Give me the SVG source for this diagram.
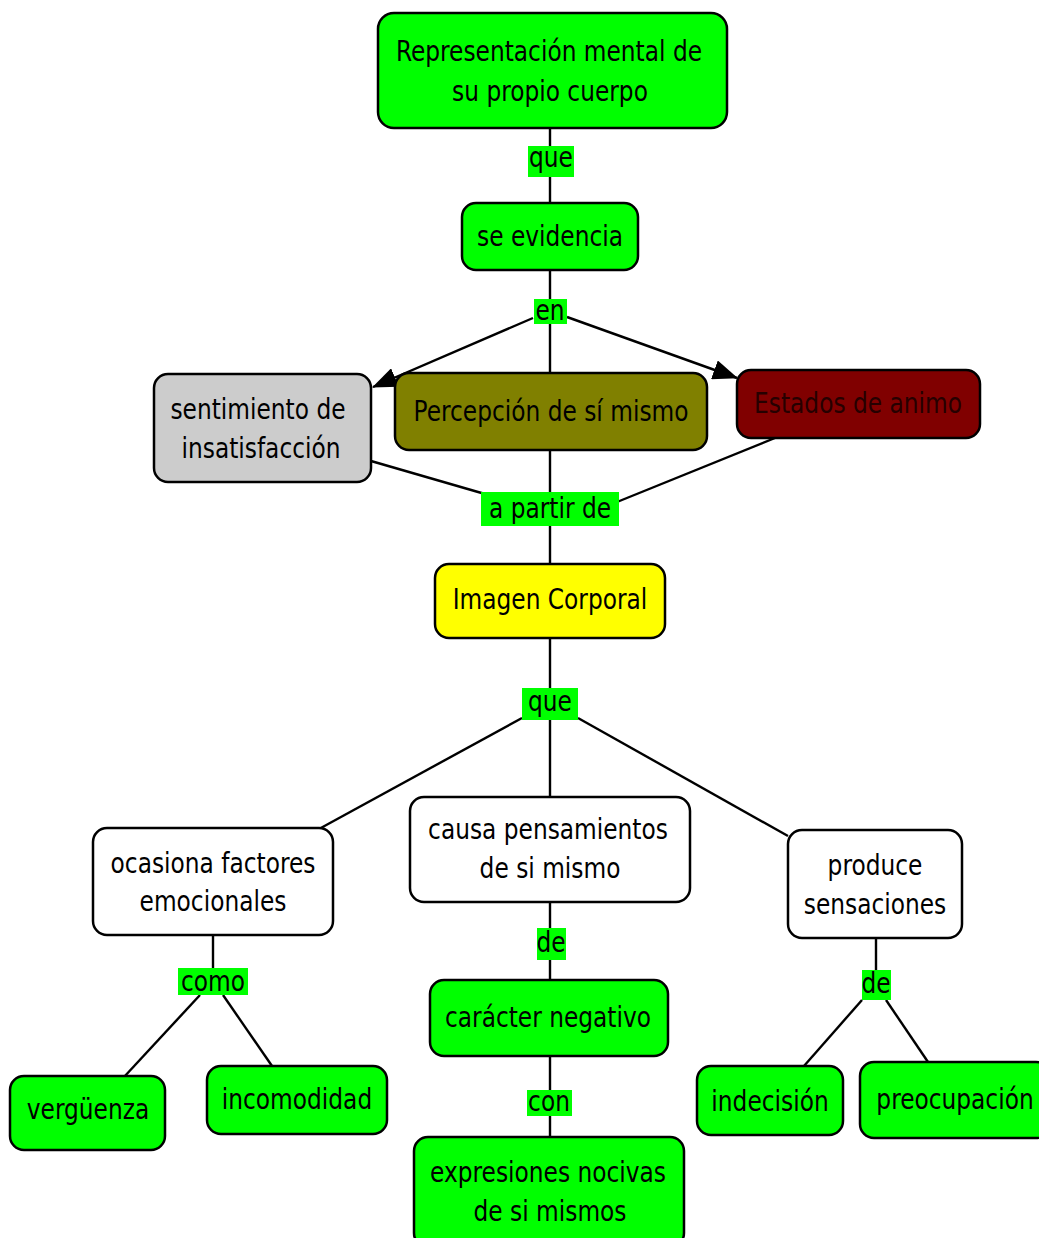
<svg xmlns="http://www.w3.org/2000/svg" width="1039" height="1238" viewBox="0 0 1039 1238">
<defs>
<style>
.n{stroke:#000;stroke-width:2.5}
.g{fill:#00ff00}
.w{fill:#fff}
.t{font-family:"DejaVu Sans Condensed","DejaVu Sans",sans-serif;font-size:28px;fill:#000;text-anchor:middle}
.c{stroke:#000;stroke-width:2.4;fill:none}
.lb{fill:#00ff00}
</style>
<marker id="ab" viewBox="0 0 25 20" refX="24" refY="10" markerWidth="25" markerHeight="20" markerUnits="userSpaceOnUse" orient="auto">
<path d="M0,0 L25,10 L0,20 z" fill="#000"/>
</marker>
</defs>
<rect width="1039" height="1238" fill="#fff"/>
<g id="connectors">
<line class="c" x1="550" y1="128" x2="550" y2="203"/>
<line class="c" x1="550" y1="270" x2="550" y2="564" stroke-width="1.8"/>
<line class="c" x1="533" y1="318" x2="373" y2="387" marker-end="url(#ab)"/>
<line class="c" x1="567" y1="317" x2="737" y2="378" marker-end="url(#ab)"/>
<line class="c" x1="371" y1="461" x2="485" y2="494"/>
<line class="c" x1="775" y1="438" x2="617" y2="502"/>
<line class="c" x1="550" y1="638" x2="550" y2="797"/>
<line class="c" x1="522" y1="718" x2="319" y2="829"/>
<line class="c" x1="578" y1="718" x2="788" y2="836"/>
<line class="c" x1="213" y1="935" x2="213" y2="970"/>
<line class="c" x1="200" y1="995" x2="124" y2="1077"/>
<line class="c" x1="223" y1="995" x2="272" y2="1066"/>
<line class="c" x1="550" y1="902" x2="550" y2="980"/>
<line class="c" x1="550" y1="1056" x2="550" y2="1137"/>
<line class="c" x1="876" y1="938" x2="876" y2="972"/>
<line class="c" x1="862" y1="1000" x2="804" y2="1066"/>
<line class="c" x1="886" y1="1000" x2="928" y2="1062"/>
</g>
<g id="labels">
<g id="l-que1"><rect class="lb" x="528" y="146" width="46" height="31"/><text class="t" transform="translate(551,167) scale(0.925,1)">que</text></g>
<g id="l-en"><rect class="lb" x="534" y="299" width="33" height="25"/><text class="t" transform="translate(550,320) scale(0.925,1)">en</text></g>
<g id="l-apartir"><rect class="lb" x="481" y="492" width="138" height="34"/><text class="t" transform="translate(550,518) scale(0.925,1)">a partir de</text></g>
<g id="l-que2"><rect class="lb" x="522" y="688" width="56" height="32"/><text class="t" transform="translate(550,711) scale(0.925,1)">que</text></g>
<g id="l-como"><rect class="lb" x="178" y="968" width="70" height="27"/><text class="t" transform="translate(213,991) scale(0.925,1)">como</text></g>
<g id="l-de1"><rect class="lb" x="537" y="928" width="29" height="32"/><text class="t" transform="translate(551,952) scale(0.925,1)">de</text></g>
<g id="l-con"><rect class="lb" x="527" y="1090" width="45" height="26"/><text class="t" transform="translate(549,1111) scale(0.925,1)">con</text></g>
<g id="l-de2"><rect class="lb" x="862" y="970" width="29" height="30"/><text class="t" transform="translate(876,993) scale(0.925,1)">de</text></g>
</g>
<g id="n1"><rect class="n g" x="378" y="13" width="349" height="115" rx="16"/><text class="t" transform="translate(549,61) scale(0.925,1)">Representación mental de</text><text class="t" transform="translate(550,101) scale(0.925,1)">su propio cuerpo</text></g>
<g id="n2"><rect class="n g" x="462" y="203" width="176" height="67" rx="14"/><text class="t" transform="translate(550,246) scale(0.925,1)">se evidencia</text></g>
<g id="n3"><rect class="n" fill="#cccccc" x="154" y="374" width="217" height="108" rx="14"/><text class="t" transform="translate(258,419) scale(0.925,1)">sentimiento de</text><text class="t" transform="translate(261,458) scale(0.925,1)">insatisfacción</text></g>
<g id="n4"><rect class="n" fill="#808000" x="395" y="373" width="312" height="77" rx="14"/><text class="t" transform="translate(551,421) scale(0.925,1)">Percepción de sí mismo</text></g>
<g id="n5"><rect class="n" fill="#800000" x="737" y="370" width="243" height="68" rx="14"/><text class="t" transform="translate(858,413) scale(0.925,1)" style="fill:#260000">Estados de animo</text></g>
<g id="n6"><rect class="n" fill="#ffff00" x="435" y="564" width="230" height="74" rx="14"/><text class="t" transform="translate(550,609) scale(0.925,1)">Imagen Corporal</text></g>
<g id="n7"><rect class="n w" x="93" y="828" width="240" height="107" rx="14"/><text class="t" transform="translate(213,873) scale(0.925,1)">ocasiona factores</text><text class="t" transform="translate(213,911) scale(0.925,1)">emocionales</text></g>
<g id="n8"><rect class="n w" x="410" y="797" width="280" height="105" rx="14"/><text class="t" transform="translate(548,839) scale(0.925,1)">causa pensamientos</text><text class="t" transform="translate(550,878) scale(0.925,1)">de si mismo</text></g>
<g id="n9"><rect class="n w" x="788" y="830" width="174" height="108" rx="14"/><text class="t" transform="translate(875,875) scale(0.925,1)">produce</text><text class="t" transform="translate(875,914) scale(0.925,1)">sensaciones</text></g>
<g id="n10"><rect class="n g" x="430" y="980" width="238" height="76" rx="14"/><text class="t" transform="translate(548,1027) scale(0.925,1)">carácter negativo</text></g>
<g id="n11"><rect class="n g" x="414" y="1137" width="270" height="110" rx="14"/><text class="t" transform="translate(548,1182) scale(0.925,1)">expresiones nocivas</text><text class="t" transform="translate(550,1221) scale(0.925,1)">de si mismos</text></g>
<g id="n12"><rect class="n g" x="10" y="1076" width="155" height="74" rx="14"/><text class="t" transform="translate(88,1119) scale(0.925,1)">vergüenza</text></g>
<g id="n13"><rect class="n g" x="207" y="1066" width="180" height="68" rx="14"/><text class="t" transform="translate(297,1109) scale(0.925,1)">incomodidad</text></g>
<g id="n14"><rect class="n g" x="697" y="1066" width="146" height="69" rx="14"/><text class="t" transform="translate(770,1111) scale(0.925,1)">indecisión</text></g>
<g id="n15"><rect class="n g" x="860" y="1062" width="190" height="76" rx="14"/><text class="t" transform="translate(955,1109) scale(0.925,1)">preocupación</text></g>
</svg>
